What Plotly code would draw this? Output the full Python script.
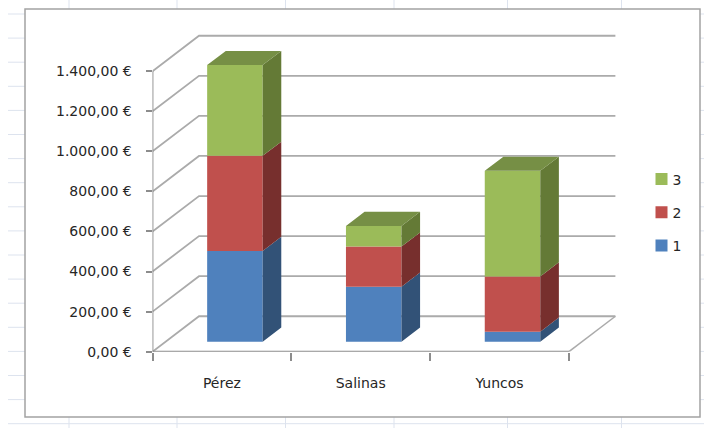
import plotly.graph_objects as go

categories = ["Pérez", "Salinas", "Yuncos"]
series_names = ["1", "2", "3"]
values_1 = [453, 275, 50]
values_2 = [475, 200, 276]
values_3 = [453, 103, 527]
y_ticks = [0, 200, 400, 600, 800, 1000, 1200, 1400]
y_tick_labels = ["0,00 €", "200,00 €", "400,00 €", "600,00 €", "800,00 €",
                 "1.000,00 €", "1.200,00 €", "1.400,00 €"]

W, H = 704, 428
front_colors = ["#4F81BD", "#C0504D", "#9BBB59"]
side_colors = ["#325277", "#772F2D", "#647A36"]
top_color = "#768F45"
grid_color = "#ABABAB"
axis_color = "#8C8C8C"
text_color = "#262626"
font_family = "DejaVu Sans"

DX, DY = 0.335, 177          # depth of the floor, in axis units
NEAR, FAR = 0.28, 0.68       # bar depth as a share of the floor depth
BAR_W = 0.4
X_MAX, Y_MAX = 3.4, 1600
PX0, PY0 = 152.5, 351.7
PX_PER_X, PX_PER_Y = 138.8, 40.07 / 200
x_dom = [PX0 / W, (PX0 + X_MAX * PX_PER_X) / W]
y_dom = [(H - PY0) / H, (H - PY0 + Y_MAX * PX_PER_Y) / H]

fig = go.Figure()


def line(xs, ys, color=grid_color, width=1.8):
    fig.add_trace(go.Scatter(x=xs, y=ys, mode="lines", showlegend=False, hoverinfo="skip",
                             cliponaxis=False, line=dict(color=color, width=width)))


# Walls and floor, behind the bars
for t in y_ticks:
    line([0, DX, 3 + DX], [t, t + DY, t + DY])
line([3, 3 + DX], [0, DY], grid_color, 1.5)
line([0, 0], [0, y_ticks[-1]], axis_color, 1.8)
line([0, 3], [0, 0], axis_color, 1.8)

# Bars: fronts through the stacked-up bases, then side and top faces
all_series = [values_1, values_2, values_3]
centers = [i + 0.5 + NEAR * DX for i in range(len(categories))]
y_near = NEAR * DY
d_x = (FAR - NEAR) * DX
d_y = (FAR - NEAR) * DY
cum = [0] * len(categories)
for rank, (name, vals, fc, sc) in enumerate(zip(series_names, all_series, front_colors, side_colors)):
    bases = [c + y_near for c in cum]
    fig.add_trace(go.Bar(x=centers, y=vals, base=bases, width=BAR_W, name=name,
                         legendgroup=name, legendrank=3 - rank, xaxis="x2", yaxis="y2",
                         marker=dict(color=fc, line=dict(width=0))))
    sx, sy = [], []
    for c, b, v in zip(centers, bases, vals):
        xr = c + BAR_W / 2
        sx += [xr, xr + d_x, xr + d_x, xr, xr, None]
        sy += [b, b + d_y, b + v + d_y, b + v, b, None]
    fig.add_trace(go.Scatter(x=sx, y=sy, mode="lines", fill="toself", fillcolor=sc,
                             line=dict(width=0, color=sc), showlegend=False, hoverinfo="skip",
                             xaxis="x2", yaxis="y2"))
    cum = [c + v for c, v in zip(cum, vals)]

tx, ty = [], []
for c, total in zip(centers, cum):
    top = total + y_near
    xl, xr = c - BAR_W / 2, c + BAR_W / 2
    tx += [xl, xr, xr + d_x, xl + d_x, xl, None]
    ty += [top, top, top + d_y, top + d_y, top, None]
fig.add_trace(go.Scatter(x=tx, y=ty, mode="lines", fill="toself", fillcolor=top_color,
                         line=dict(width=0, color=top_color), showlegend=False, hoverinfo="skip",
                         xaxis="x2", yaxis="y2"))

# Worksheet behind the chart
sheet = "#DDE3EE"
shapes = []
for px in [69, 177, 285.5, 394, 507.5, 621.5]:
    shapes.append(dict(type="line", xref="paper", yref="paper", layer="below",
                       x0=px / W, x1=px / W, y0=0, y1=1, line=dict(color=sheet, width=1)))
for k in range(18):
    py = 14 + 24.1 * k
    shapes.append(dict(type="line", xref="paper", yref="paper", layer="below",
                       x0=8 / W, x1=1, y0=1 - py / H, y1=1 - py / H, line=dict(color=sheet, width=1)))
shapes.append(dict(type="rect", xref="paper", yref="paper", layer="below",
                   x0=25 / W, x1=700 / W, y0=1 - 417 / H, y1=1 - 9 / H,
                   fillcolor="white", line=dict(color="#A3A3A3", width=1.5)))

fig.update_layout(
    width=W, height=H, margin=dict(l=0, r=0, t=0, b=0, pad=0, autoexpand=False),
    paper_bgcolor="white", plot_bgcolor="rgba(0,0,0,0)", barmode="overlay",
    font=dict(family=font_family, size=12, color=text_color),
    shapes=shapes,
    showlegend=True,
    legend=dict(x=641.5 / W, y=1 - 163.5 / H, xanchor="left", yanchor="top",
                traceorder="grouped", tracegroupgap=12,
                bgcolor="rgba(0,0,0,0)", font=dict(size=14, color=text_color)),
    xaxis=dict(domain=x_dom, range=[0, X_MAX], showgrid=False, zeroline=False, showline=False,
               tickmode="array", tickvals=[0.5, 1.5, 2.5], ticktext=categories, ticks="",
               ticklabelstandoff=21, tickfont=dict(size=14),
               minor=dict(tickmode="array", tickvals=[0, 1, 2, 3], ticks="outside", ticklen=8,
                          tickwidth=1.5, tickcolor=axis_color, showgrid=False)),
    yaxis=dict(domain=y_dom, range=[0, Y_MAX], showgrid=False, zeroline=False, showline=False,
               tickmode="array", tickvals=y_ticks, ticktext=y_tick_labels, ticks="outside",
               ticklen=6, tickwidth=1.5, tickcolor=axis_color,
               ticklabelstandoff=11, tickfont=dict(size=14)),
    xaxis2=dict(overlaying="x", range=[0, X_MAX], visible=False),
    yaxis2=dict(overlaying="y", range=[0, Y_MAX], visible=False),
)

fig.write_html("out.html", config=dict(displayModeBar=False),
               post_script="document.body.style.margin='0';"
                           "document.querySelectorAll('.legendtext').forEach(function(t){t.setAttribute('x',31);});")
